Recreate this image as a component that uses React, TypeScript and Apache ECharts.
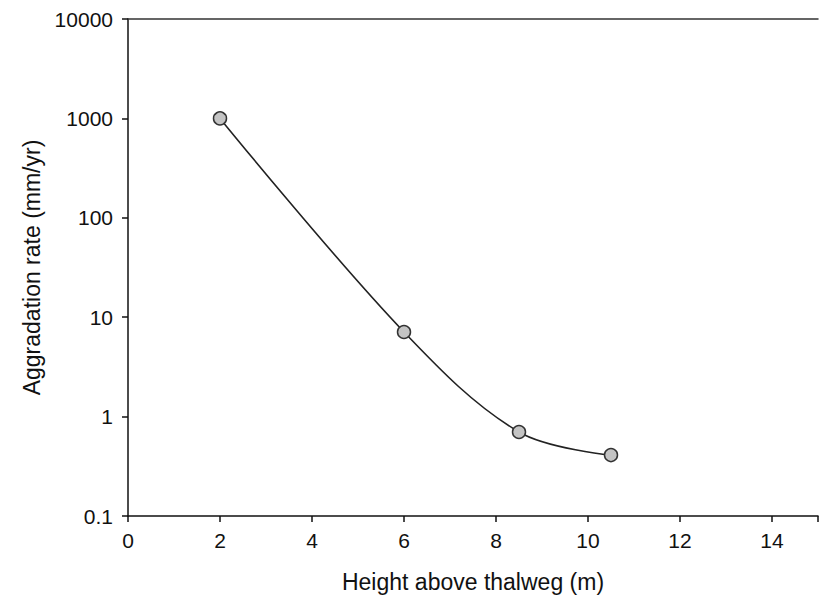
import React, { useEffect, useRef } from "react";
import * as echarts from "echarts";

const heights = [2, 6, 8.5, 10.5];
const rates = [1000, 7.1, 0.7, 0.41];
const xTicks = [0, 2, 4, 6, 8, 10, 12, 14];
const yTickLabels = ["0.1", "1", "10", "100", "1000", "10000"];

export default function App() {
  const ref = useRef<HTMLDivElement>(null);
  useEffect(() => {
    if (!ref.current) return;
    const chart = echarts.init(ref.current, null, { renderer: "svg" });
    const font = "Liberation Sans, Arial, sans-serif";
    chart.setOption({
      animation: false,
      backgroundColor: "#ffffff",
      grid: { left: 128, top: 19, bottom: 84, right: -8, containLabel: false },
      xAxis: [
        {
          type: "value",
          min: 0,
          max: 15,
          interval: 2,
          name: "Height above thalweg (m)",
          nameLocation: "middle",
          nameGap: 54,
          nameTextStyle: { fontFamily: font, fontSize: 23, color: "#111" },
          axisLine: { lineStyle: { color: "#111", width: 1.5 } },
          axisTick: { show: true, length: 6, inside: false, lineStyle: { color: "#111", width: 1.5 } },
          axisLabel: {
            fontFamily: font,
            fontSize: 21,
            color: "#111",
            margin: 14,
            formatter: (v: number) => (xTicks.includes(v) ? String(v) : ""),
          },
          splitLine: { show: false },
        },
        {
          type: "value",
          position: "top",
          min: 0,
          max: 15,
          axisLine: { show: true, onZero: false, lineStyle: { color: "#333", width: 1.5 } },
          axisTick: { show: false },
          axisLabel: { show: false },
          splitLine: { show: false },
        },
      ],
      yAxis: {
        type: "log",
        logBase: 10,
        min: 0.1,
        max: 10000,
        name: "Aggradation rate (mm/yr)",
        nameLocation: "middle",
        nameGap: 84,
        nameTextStyle: { fontFamily: font, fontSize: 23, color: "#111" },
        axisLine: { show: true, lineStyle: { color: "#111", width: 1.5 } },
        axisTick: { show: true, length: 6, inside: false, lineStyle: { color: "#111", width: 1.5 } },
        axisLabel: {
          fontFamily: font,
          fontSize: 21,
          color: "#111",
          margin: 15,
          formatter: (v: number) => {
            const s = yTickLabels.find((t) => Math.abs(parseFloat(t) - v) / v < 1e-6);
            return s ?? "";
          },
        },
        splitLine: { show: false },
      },
      series: [
        {
          type: "line",
          data: heights.map((h, i) => [h, rates[i]]),
          smooth: 0.35,
          symbol: "circle",
          symbolSize: 13,
          lineStyle: { color: "#222", width: 1.6 },
          itemStyle: { color: "#c4c4c4", borderColor: "#333", borderWidth: 1.5 },
        },
      ],
    });
    return () => chart.dispose();
  }, []);
  return (
    <div
      ref={ref}
      style={{ position: "fixed", left: 0, top: 0, width: 821, height: 600, background: "#fff" }}
    />
  );
}
